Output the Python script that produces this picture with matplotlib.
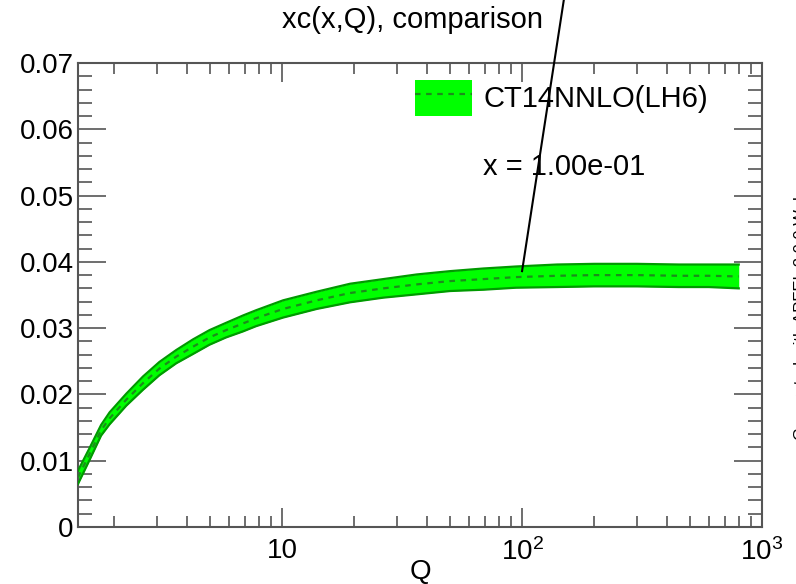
import matplotlib
matplotlib.use("Agg")
import matplotlib.pyplot as plt
from matplotlib.patches import Patch
from matplotlib.lines import Line2D
from matplotlib.ticker import FixedLocator, FixedFormatter, MultipleLocator, NullFormatter

plt.rcParams['font.family'] = ['Liberation Sans', 'DejaVu Sans']
plt.rcParams['mathtext.fontset'] = 'custom'
plt.rcParams['mathtext.rm'] = 'Liberation Sans'
plt.rcParams['mathtext.it'] = 'Liberation Sans'

# ---- data ----
Q = [1.41, 1.57, 1.76, 1.91, 2.24, 2.63, 3.08, 3.62, 4.25, 4.98, 5.84, 6.86, 7.79,
     10.1, 13.95, 19.2, 26.4, 36.4, 50.1, 69.1, 94.3, 140, 200, 300, 450, 600, 800]
central = [0.0075, 0.0109, 0.0146, 0.0164, 0.0192, 0.0217, 0.0239, 0.0257, 0.0272,
           0.0286, 0.0297, 0.0307, 0.0315, 0.0329, 0.0342, 0.0353, 0.0360, 0.0366,
           0.0371, 0.0374, 0.0377, 0.0379, 0.0380, 0.0380, 0.0379, 0.0379, 0.0378]
upper = [0.0085, 0.0118, 0.0154, 0.0173, 0.0201, 0.0227, 0.0249, 0.0267, 0.0283,
         0.0297, 0.0308, 0.0319, 0.0327, 0.0342, 0.0355, 0.0367, 0.0374, 0.0381,
         0.0386, 0.0390, 0.0393, 0.0396, 0.0397, 0.0397, 0.0396, 0.0396, 0.0396]
lower = [0.0065, 0.0100, 0.0138, 0.0155, 0.0183, 0.0207, 0.0229, 0.0247, 0.0261,
         0.0275, 0.0286, 0.0295, 0.0303, 0.0316, 0.0329, 0.0339, 0.0346, 0.0351,
         0.0356, 0.0358, 0.0361, 0.0362, 0.0363, 0.0363, 0.0362, 0.0362, 0.0360]
pointer_Q = [100, 150]
pointer_y = [0.0386, 0.0800]
xticks = [10, 100, 1000]
xticklabels = ['10', r'10$^{2}$', r'10$^{3}$']
yticks = [0, 0.01, 0.02, 0.03, 0.04, 0.05, 0.06, 0.07]
yticklabels = ['0', '0.01', '0.02', '0.03', '0.04', '0.05', '0.06', '0.07']
series_label = 'CT14NNLO(LH6)'
x_note = 'x = 1.00e-01'

W, H = 796, 584
fig = plt.figure(figsize=(W / 100, H / 100), dpi=100)
ax = fig.add_axes([78 / W, 1 - 527 / H, (762 - 78) / W, (527 - 63) / H])

fill_c = '#00ff00'
edge_c = '#009a00'
dash_c = '#1c8c1c'

ax.fill_between(Q, lower, upper, color=fill_c, lw=0, zorder=2)
ax.plot(Q, upper, color=edge_c, lw=1.6, zorder=3)
ax.plot(Q, lower, color=edge_c, lw=1.6, zorder=3)
ax.plot(Q, central, color=dash_c, lw=1.6, ls=(0, (2.5, 2.5)), zorder=4)

ax.plot(pointer_Q, pointer_y, color='black', lw=1.5, clip_on=False, zorder=6)

ax.set_xscale('log')
ax.set_xlim(1.41, 1000)
ax.set_ylim(0, 0.07)

ax.xaxis.set_major_locator(FixedLocator(xticks))
ax.xaxis.set_major_formatter(FixedFormatter(xticklabels))
minors = [m * 10 ** e for e in range(0, 3) for m in range(2, 10)]
ax.xaxis.set_minor_locator(FixedLocator(minors))
ax.xaxis.set_minor_formatter(NullFormatter())
ax.yaxis.set_major_locator(FixedLocator(yticks))
ax.yaxis.set_major_formatter(FixedFormatter(yticklabels))
ax.yaxis.set_minor_locator(MultipleLocator(0.002))

spine_c = '#555555'
for s in ax.spines.values():
    s.set_color(spine_c)
    s.set_linewidth(1.5)
ax.tick_params(axis='both', which='both', direction='in', top=True, right=True,
               color=spine_c, width=1.2)
ax.tick_params(axis='y', which='major', length=20, labelsize=20, pad=3)
ax.tick_params(axis='y', which='minor', length=10)
ax.tick_params(axis='x', which='major', length=14, labelsize=20, pad=8)
ax.tick_params(axis='x', which='minor', length=8)

ax.set_xlabel('Q', fontsize=20)
ax.xaxis.set_label_coords(0.5, -0.07)

fig.text(412 / W, 1 - 20 / H, 'xc(x,Q), comparison', fontsize=21, ha='center', va='center')

handle = (Patch(facecolor=fill_c, edgecolor='none'),
          Line2D([], [], color=dash_c, lw=1.6, ls=(0, (2.5, 2.5))))
ax.legend([handle], [series_label], loc='upper left',
          bbox_to_anchor=(415 / W, 1 - 80 / H), bbox_transform=fig.transFigure,
          frameon=False, fontsize=21, handlelength=1.95, handleheight=1.5,
          handletextpad=0.41, borderpad=0, borderaxespad=0)

fig.text(483 / W, 1 - 167 / H, x_note, fontsize=21, ha='left', va='center')

fig.text(801 / W, 1 - 315 / H, 'Generated with APFEL 2.0.0 Web', fontsize=12,
         rotation=90, ha='center', va='center')

fig.savefig('out.png', dpi=100)
